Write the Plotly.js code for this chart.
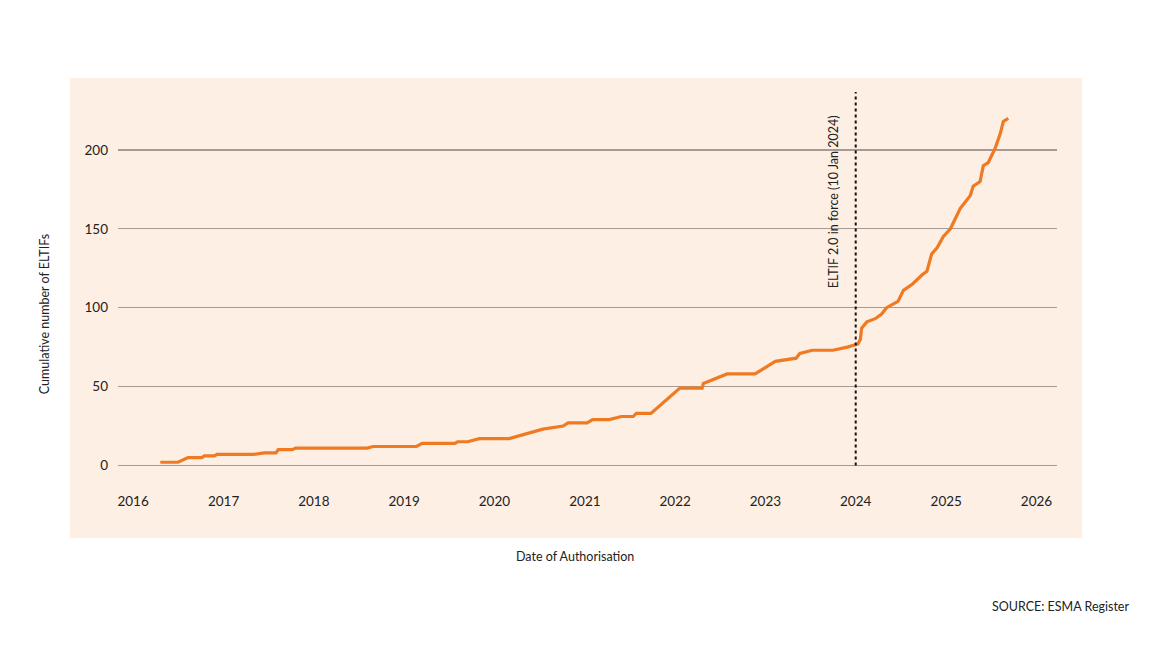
<!DOCTYPE html>
<html>
<head>
<meta charset="utf-8">
<script src="https://cdn.plot.ly/plotly-3.0.1.min.js"></script>
<style>
html,body{margin:0;padding:0;background:#fff;}
#chart{width:1152px;height:648px;}
</style>
</head>
<body>
<div id="chart"></div>
<script>
// Cumulative number of ELTIFs by date of authorisation
const dates = [
  '2016-04-20','2016-07-01','2016-08-10','2016-10-05','2016-10-15','2016-11-25','2016-12-05',
  '2017-05-01','2017-06-15','2017-08-01','2017-08-10','2017-10-05','2017-10-20',
  '2018-08-05','2018-08-28','2019-02-20','2019-03-15','2019-07-25','2019-08-05','2019-09-15','2019-11-01',
  '2020-03-01','2020-07-15','2020-10-05','2020-10-25',
  '2021-01-10','2021-02-01','2021-04-10','2021-05-28','2021-07-15','2021-07-28','2021-09-25',
  '2022-01-20','2022-04-20','2022-04-25','2022-07-30','2022-11-20',
  '2023-02-10','2023-05-05','2023-05-20','2023-07-10','2023-10-01','2023-11-28',
  '2024-01-10','2024-01-20','2024-01-25','2024-02-15','2024-03-20','2024-04-15','2024-05-05',
  '2024-06-20','2024-07-12','2024-08-18','2024-09-27','2024-10-15','2024-11-03','2024-11-25','2024-12-20',
  '2025-01-18','2025-02-27','2025-04-08','2025-04-20','2025-05-18','2025-05-31','2025-06-20',
  '2025-07-18','2025-08-07','2025-08-20','2025-09-09'
];
const cumulative = [
  2,2,5,5,6,6,7,
  7,8,8,10,10,11,
  11,12,12,14,14,15,15,17,
  17,23,25,27,
  27,29,29,31,31,33,33,
  49,49,52,58,58,
  66,68,71,73,73,75,
  77,80,87,91,93,96,100,
  104,111,115,121,123,134,138,145,
  150,163,171,177,180,190,192,
  201,210,218,220
];
const yTicks = [0, 50, 100, 150, 200];
const xTickYears = ['2016','2017','2018','2019','2020','2021','2022','2023','2024','2025','2026'];
const eltifDate = '2024-01-01';
const eltifLabel = 'ELTIF 2.0 in force (10 Jan 2024)';

const FONT = 'Lato, "Open Sans", sans-serif';
const TXT = '#222222';

const trace = {
  x: dates, y: cumulative, type: 'scatter', mode: 'lines',
  line: {color: '#F07A22', width: 3.2}, hoverinfo: 'x+y'
};

const layout = {
  width: 1152, height: 648,
  margin: {l: 118, r: 95, t: 92, b: 181.4},
  paper_bgcolor: '#ffffff',
  plot_bgcolor: 'rgba(0,0,0,0)',
  showlegend: false,
  font: {family: FONT, color: TXT, size: 13.5},
  xaxis: {
    type: 'date',
    range: ['2015-11-01', '2026-03-25'],
    tickvals: xTickYears.map(y => y + '-01-01'),
    ticktext: xTickYears,
    showgrid: false, zeroline: false, showline: false,
    ticks: '', ticklabelstandoff: 24,
    tickfont: {family: FONT, size: 13.5, color: TXT}
  },
  yaxis: {
    range: [-1, 236.7],
    tickvals: yTicks,
    showgrid: true, gridcolor: '#A69B93', gridwidth: 1.3,
    zeroline: false, showline: false,
    ticks: '', ticklabelstandoff: 9,
    tickfont: {family: FONT, size: 13.5, color: TXT}
  },
  shapes: [
    {type: 'rect', xref: 'paper', yref: 'paper', x0: -0.0511, x1: 1.0266, y0: -0.189, y1: 1.0374,
     fillcolor: '#FDEFE4', line: {width: 0}, layer: 'below'},
    {type: 'line', xref: 'x', yref: 'y', x0: eltifDate, x1: eltifDate, y0: 0, y1: 236.7,
     line: {color: '#111111', width: 2, dash: 'dot'}}
  ],
  annotations: [
    {text: eltifLabel, xref: 'paper', yref: 'paper', x: 0.7614, y: 0.7085,
     xanchor: 'center', yanchor: 'middle',
     textangle: -90, showarrow: false, font: {family: FONT, size: 12.5, color: TXT}},
    {text: 'Cumulative number of ELTIFs', xref: 'paper', yref: 'paper', x: -0.078, y: 0.407,
     xanchor: 'center', yanchor: 'middle',
     textangle: -90, showarrow: false, font: {family: FONT, size: 12.5, color: TXT}},
    {text: 'Date of Authorisation', xref: 'paper', yref: 'paper', x: 0.487, y: -0.239,
     xanchor: 'center', yanchor: 'middle',
     showarrow: false, font: {family: FONT, size: 12.5, color: TXT}},
    {text: 'SOURCE: ESMA Register', xref: 'paper', yref: 'paper', x: 1.0788, y: -0.372,
     xanchor: 'right', yanchor: 'middle', showarrow: false, font: {family: FONT, size: 12.5, color: TXT}}
  ]
};

Plotly.newPlot('chart', [trace], layout, {displayModeBar: false, staticPlot: true});
</script>
</body>
</html>
